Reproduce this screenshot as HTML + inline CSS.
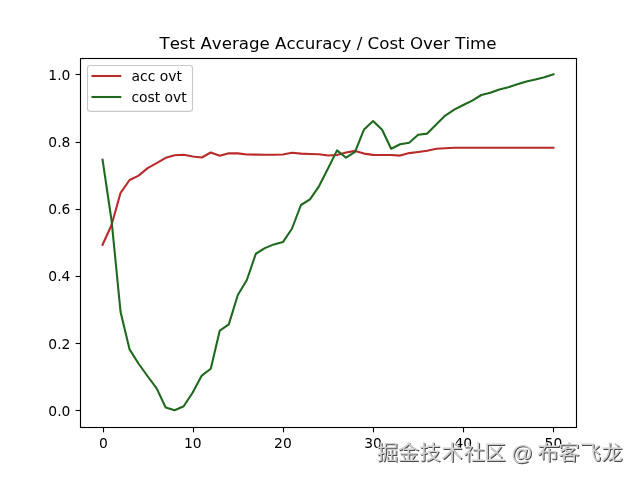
<!DOCTYPE html>
<html><head><meta charset="utf-8"><style>
html,body{margin:0;padding:0;background:#fff;}
body{width:640px;height:480px;overflow:hidden;position:relative;}
svg{position:absolute;left:0;top:0;font-kerning:none;}
.wm span{position:absolute;top:440px;font-family:"Liberation Sans","Noto Sans CJK SC",sans-serif;font-size:21.5px;line-height:30px;color:#d0d0d0;white-space:nowrap;text-shadow:1px 1px 0.6px #4a4a4a;transform:scaleY(0.93);transform-origin:0 0;}
</style></head><body>
<svg width="640" height="480" viewBox="0 0 640 480">
<rect x="0" y="0" width="640" height="480" fill="#fff"/>
<g fill="none" stroke-linejoin="round" stroke-linecap="square" stroke-width="2.083">
<polyline points="102.55,244.80 111.56,225.00 120.58,192.80 129.60,180.00 138.62,175.60 147.64,168.10 156.65,163.10 165.67,157.80 174.69,155.30 183.71,154.80 192.73,156.50 201.75,157.50 210.76,152.50 219.78,155.80 228.80,153.25 237.82,153.40 246.84,154.50 255.85,154.60 264.87,154.80 273.89,154.80 282.91,154.50 291.93,152.70 300.95,153.60 309.96,154.00 318.98,154.30 328.00,155.50 337.02,155.00 346.04,152.50 355.05,150.90 364.07,153.60 373.09,154.90 382.11,155.00 391.13,155.00 400.15,155.60 409.16,153.10 418.18,152.00 427.20,150.80 436.22,148.75 445.24,148.30 454.25,147.80 463.27,147.70 472.29,147.70 481.31,147.70 490.33,147.70 499.35,147.70 508.36,147.70 517.38,147.70 526.40,147.70 535.42,147.70 544.44,147.70 553.45,147.70" stroke="#bb2a2a"/>
<polyline points="102.55,159.60 111.56,220.50 120.58,312.00 129.60,349.40 138.62,363.75 147.64,376.25 156.65,388.40 165.67,407.50 174.69,410.30 183.71,406.25 192.73,392.50 201.75,375.60 210.76,368.75 219.78,330.60 228.80,324.40 237.82,295.00 246.84,280.00 255.85,253.75 264.87,248.10 273.89,244.40 282.91,242.10 291.93,228.75 300.95,205.00 309.96,199.40 318.98,186.30 328.00,168.50 337.02,150.40 346.04,157.70 355.05,151.90 364.07,129.40 373.09,121.00 382.11,129.75 391.13,148.75 400.15,144.20 409.16,142.80 418.18,134.70 427.20,133.60 436.22,124.40 445.24,115.60 454.25,109.60 463.27,105.00 472.29,100.60 481.31,95.00 490.33,92.75 499.35,89.40 508.36,87.20 517.38,84.20 526.40,81.50 535.42,79.40 544.44,77.25 553.45,74.40" stroke="#1f691f"/>
</g>
<rect x="80.5" y="58.5" width="496.0" height="369.0" fill="none" stroke="#000" stroke-width="1.111" stroke-linejoin="miter" stroke-linecap="square"/>
<g stroke="#000" stroke-width="1.111"><line x1="103.5" y1="427.5" x2="103.5" y2="432.36"/><line x1="193.5" y1="427.5" x2="193.5" y2="432.36"/><line x1="283.5" y1="427.5" x2="283.5" y2="432.36"/><line x1="373.5" y1="427.5" x2="373.5" y2="432.36"/><line x1="463.5" y1="427.5" x2="463.5" y2="432.36"/><line x1="553.5" y1="427.5" x2="553.5" y2="432.36"/><line x1="75.64" y1="410.5" x2="80.5" y2="410.5"/><line x1="75.64" y1="343.5" x2="80.5" y2="343.5"/><line x1="75.64" y1="276.5" x2="80.5" y2="276.5"/><line x1="75.64" y1="209.5" x2="80.5" y2="209.5"/><line x1="75.64" y1="142.5" x2="80.5" y2="142.5"/><line x1="75.64" y1="74.5" x2="80.5" y2="74.5"/></g>
<g font-family="'DejaVu Sans', 'Liberation Sans', sans-serif" font-size="13.889px" fill="#000"><text x="103.35" y="448.4" text-anchor="middle">0</text><text x="192.73" y="448.4" text-anchor="middle">10</text><text x="282.91" y="448.4" text-anchor="middle">20</text><text x="373.09" y="448.4" text-anchor="middle">30</text><text x="463.27" y="448.4" text-anchor="middle">40</text><text x="553.45" y="448.4" text-anchor="middle">50</text><text x="70.4" y="415.78" text-anchor="end">0.0</text><text x="70.4" y="348.58" text-anchor="end">0.2</text><text x="70.4" y="281.38" text-anchor="end">0.4</text><text x="70.4" y="214.18" text-anchor="end">0.6</text><text x="70.4" y="146.98" text-anchor="end">0.8</text><text x="70.4" y="79.78" text-anchor="end">1.0</text></g>
<text x="328" y="49.27" text-anchor="middle" font-family="'DejaVu Sans', 'Liberation Sans', sans-serif" font-size="16.667px" fill="#000">Test Average Accuracy / Cost Over Time</text>
<path d="M 90.28 111.4 L 189.72 111.4 Q 192.5 111.4 192.5 108.62 L 192.5 68.28 Q 192.5 65.5 189.72 65.5 L 90.28 65.5 Q 87.5 65.5 87.5 68.28 L 87.5 108.62 Q 87.5 111.4 90.28 111.4 Z" fill="#fff" fill-opacity="0.8" stroke="#c8c8c8" stroke-width="1.1"/>
<line x1="92.5" y1="76" x2="120.28" y2="76" stroke="#bb2a2a" stroke-width="2.083" stroke-linecap="square"/>
<line x1="92.5" y1="97" x2="120.28" y2="97" stroke="#1f691f" stroke-width="2.083" stroke-linecap="square"/>
<g font-family="'DejaVu Sans', 'Liberation Sans', sans-serif" font-size="13.889px" fill="#000">
<text x="131.6" y="81">acc ovt</text>
<text x="131.4" y="101.9">cost ovt</text>
</g>
</svg>
<div class="wm"><span style="left:376.70px">掘</span><span style="left:397.85px">金</span><span style="left:419.35px">技</span><span style="left:441.30px">术</span><span style="left:463.55px">社</span><span style="left:484.30px">区</span><span style="left:511.00px">@</span><span style="left:537.25px">布</span><span style="left:558.25px">客</span><span style="left:579.40px">飞</span><span style="left:601.25px">龙</span></div>
</body></html>
